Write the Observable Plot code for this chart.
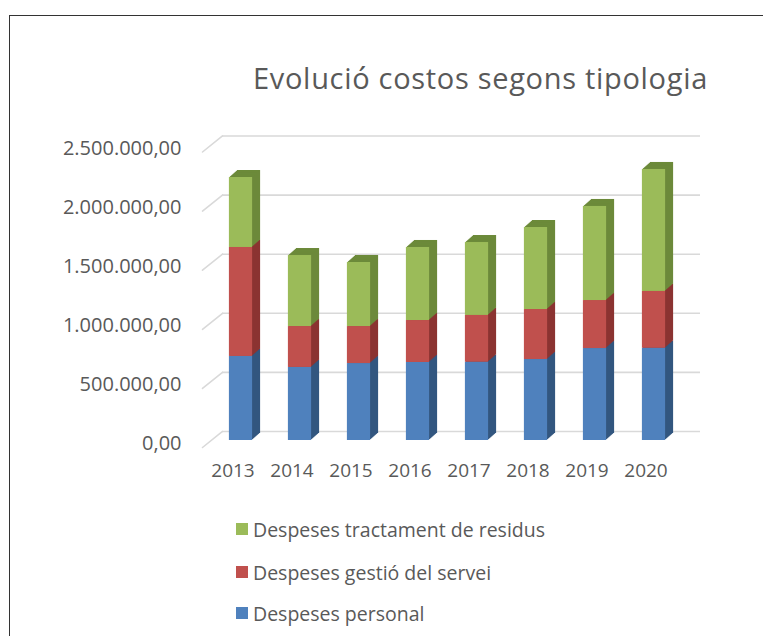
<!DOCTYPE html>
<html>
<head>
<meta charset="utf-8">
<script src="https://cdn.jsdelivr.net/npm/d3@7"></script>
<script src="https://cdn.jsdelivr.net/npm/@observablehq/plot@0.6"></script>
<style>
  html, body { margin: 0; padding: 0; background: #fff; }
  #wrap { position: relative; width: 763px; height: 636px; overflow: hidden; background: #fff; font-family: "Open Sans", sans-serif; color: #595959; }
  #frame { position: absolute; left: 9px; top: 15px; width: 800px; height: 700px; border-left: 1.5px solid #333; border-top: 1.5px solid #333; }
  #title { position: absolute; left: 253px; top: 63px; font-size: 29px; line-height: 1; white-space: nowrap; color: #595959; }
  #chart { position: absolute; left: 0; top: 0; }
  .leg { position: absolute; left: 236px; height: 20px; display: flex; align-items: center; white-space: nowrap; font-size: 19.5px; color: #595959; }
  .leg span.sw { display: inline-block; width: 12px; height: 12px; margin-right: 5px; }
</style>
</head>
<body>
<div id="wrap">
  <div id="frame"></div>
  <div id="title">Evolució costos segons tipologia</div>
  <div id="chart"></div>
  <div id="legend"></div>
</div>
<script>
// ---- data ----
const years = ["2013", "2014", "2015", "2016", "2017", "2018", "2019", "2020"];
const personal = [711000, 618000, 651000, 660000, 662000, 685000, 778000, 780000];
const gestio   = [922000, 346000, 313000, 355000, 396000, 423000, 406000, 481000];
const residus  = [592000, 601000, 542000, 618000, 617000, 694000, 796000, 1032000];
const seriesNames = ["Despeses personal", "Despeses gestió del servei", "Despeses tractament de residus"];
const seriesColors = ["#4f81bd", "#c0504d", "#9bbb59"];
const sideColors = ["#33567f", "#8c3432", "#6c8a3a"];
const yTicks = [0, 500000, 1000000, 1500000, 2000000, 2500000];

const seriesValues = [personal, gestio, residus];
const table = [];
seriesNames.forEach((s, i) => years.forEach((y, j) => table.push({year: y, series: s, value: seriesValues[i][j]})));
const sideOf = Object.fromEntries(seriesNames.map((s, i) => [s, sideColors[i]]));

const locale = d3.formatLocale({decimal: ",", thousands: ".", grouping: [3], currency: ["", ""]});
const fmt = locale.format(",.2f");

const W = 763, H = 500;
const insetL = 13.9, insetR = 21.9;

const sideMarks = [8, 7, 6, 5, 4, 3, 2, 1].map(k =>
  Plot.barY(table, Plot.stackY({
    x: "year", y: "value", z: "series",
    fill: {value: d => sideOf[d.series], scale: null},
    insetLeft: insetL, insetRight: insetR,
    dx: k, dy: -k * 7 / 8
  }))
);

const lineShape = { draw(context, l) { context.moveTo(0, 0); context.lineTo(0, -l); } };

const chart = Plot.plot({
  width: W, height: H,
  marginLeft: 212, marginRight: W - 690, marginTop: 144.5, marginBottom: H - 440,
  style: {fontFamily: "Open Sans, sans-serif", fontSize: "20px", color: "#595959", background: "transparent", overflow: "visible"},
  x: {domain: years, padding: 0, axis: null},
  y: {domain: [0, 2500000], axis: null},
  color: {domain: seriesNames, range: seriesColors},
  marks: [
    Plot.ruleY(yTicks, {stroke: "#d9d9d9", strokeWidth: 1.6, dx: 10, dy: -9}),
    Plot.vector(yTicks, {y: d => d, frameAnchor: "left", anchor: "start", length: 25.6, rotate: 51.3,
      shape: lineShape, stroke: "#d9d9d9", strokeWidth: 1.6, dx: -10, dy: 7}),
    ...sideMarks,
    Plot.barY(table, Plot.stackY({x: "year", y: "value", z: "series", fill: "series", insetLeft: insetL, insetRight: insetR})),
    Plot.axisY(yTicks, {tickSize: 0, tickPadding: 31, dy: 3.5, tickFormat: fmt, fontSize: 20, fill: "#595959", label: null}),
    Plot.axisX({tickSize: 0, tickPadding: 23, dx: -12, fontSize: 19, fill: "#595959", label: null})
  ]
});
document.getElementById("chart").appendChild(chart);

// ---- legend (top to bottom: reverse series order) ----
const legend = document.getElementById("legend");
const rowY = [529, 572, 613];
[2, 1, 0].forEach((i, r) => {
  const div = document.createElement("div");
  div.className = "leg";
  div.style.top = (rowY[r] - 10) + "px";
  div.innerHTML = `<span class="sw" style="background:${seriesColors[i]}"></span><span class="tx"></span>`;
  div.querySelector(".tx").textContent = seriesNames[i];
  legend.appendChild(div);
});

// fit title width to the reference span
function fit(el, target) {
  const w = el.getBoundingClientRect().width;
  const n = el.textContent.length;
  el.style.letterSpacing = ((target - w) / n) + "px";
}
fit(document.getElementById("title"), 455);
</script>
</body>
</html>
